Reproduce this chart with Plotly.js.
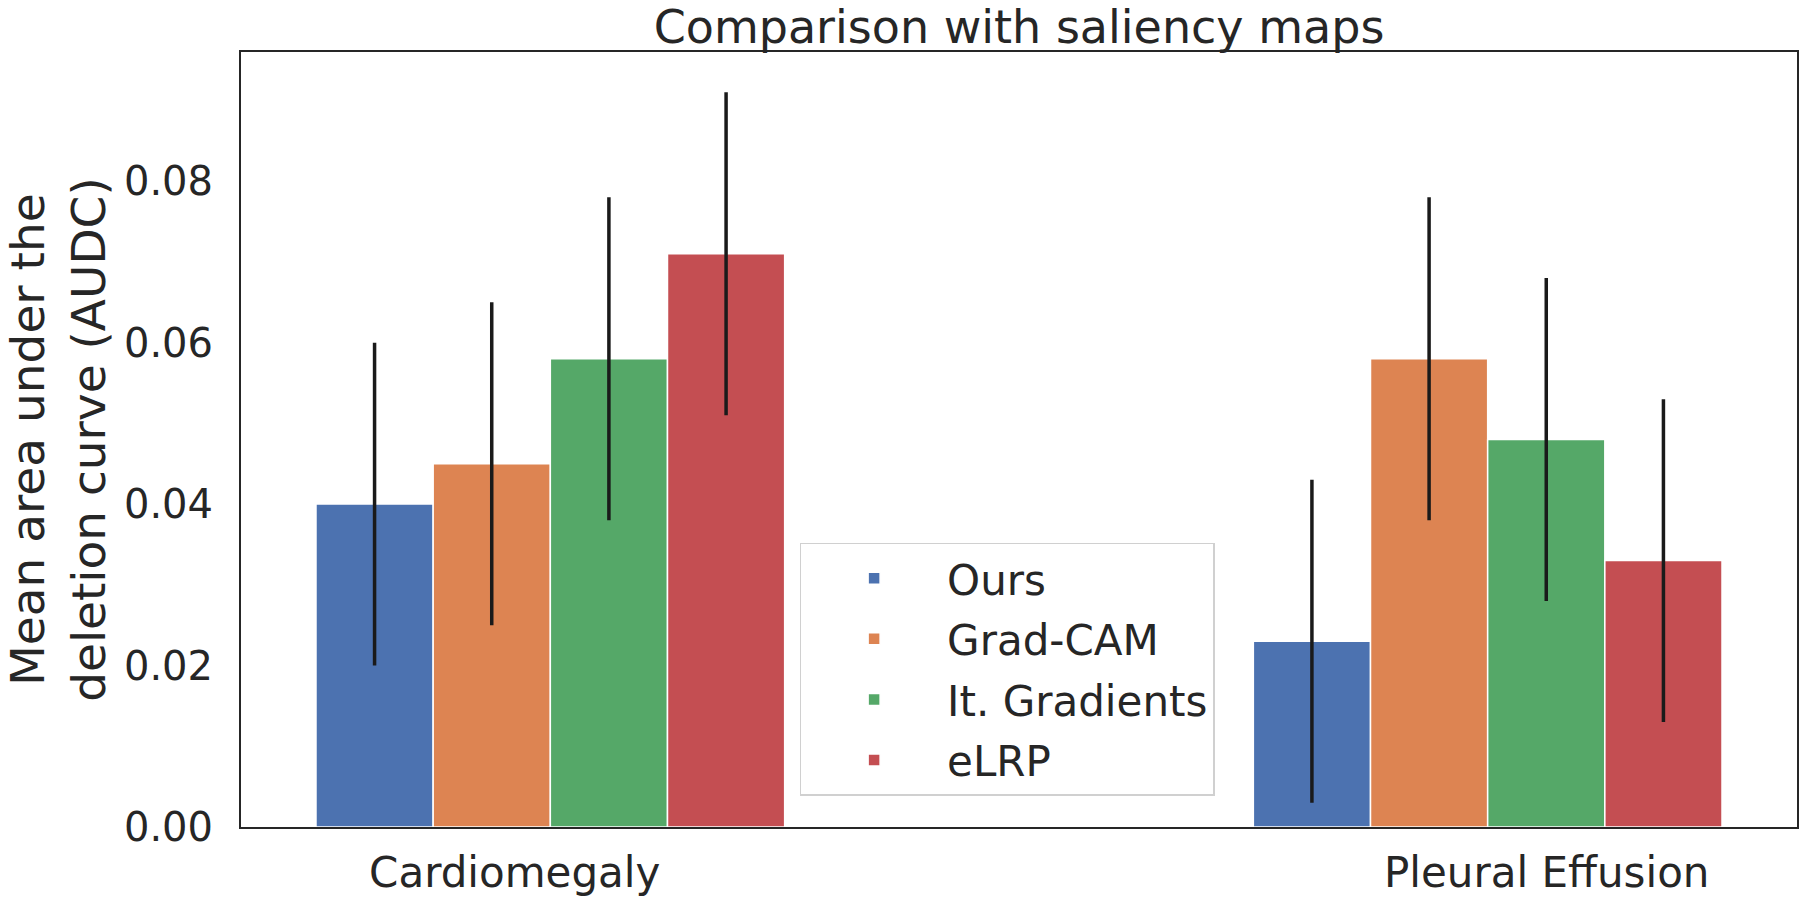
<!DOCTYPE html>
<html>
<head>
<meta charset="utf-8">
<script src="https://cdn.plot.ly/plotly-3.0.1.min.js"></script>
<style>html,body{margin:0;padding:0;background:#fff;}#chart{width:1800px;height:897px;}</style>
</head>
<body>
<div id="chart"></div>
<script>
// Data
const categories = ["Cardiomegaly", "Pleural Effusion"];
const methods = ["Ours", "Grad-CAM", "It. Gradients", "eLRP"];
const ours = [0.040, 0.023];
const gradcam = [0.045, 0.058];
const itgrad = [0.058, 0.048];
const elrp = [0.071, 0.033];
const oursErr = [0.020, 0.020];
const gradcamErr = [0.020, 0.020];
const itgradErr = [0.020, 0.020];
const elrpErr = [0.020, 0.020];
const yTicks = [0.00, 0.02, 0.04, 0.06, 0.08];
const yTickText = ["0.00", "0.02", "0.04", "0.06", "0.08"];

const colors = ["#4c72b0", "#dd8452", "#55a868", "#c44e52"];
const values = [ours, gradcam, itgrad, elrp];
const errs = [oursErr, gradcamErr, itgradErr, elrpErr];
const xPos = categories.map((c, i) => i);

const font = "DejaVu Sans, sans-serif";
const txt = "#262626";

const traces = methods.map((m, k) => ({
  type: "bar",
  name: m,
  legendgroup: "g" + k,
  x: xPos,
  y: values[k],
  marker: {color: colors[k], line: {color: "#ffffff", width: 1.5}},
  error_y: {type: "data", array: errs[k], visible: true, color: "#1a1a1a", thickness: 3.5, width: 0},
  hoverinfo: "y+name"
}));

const layout = {
  width: 1800, height: 897,
  paper_bgcolor: "#ffffff", plot_bgcolor: "#ffffff",
  margin: {l: 241, r: 3, t: 52, b: 70},
  barmode: "group", bargap: 0.5, bargroupgap: 0,
  font: {family: font, size: 40, color: txt},
  title: {text: "Comparison with saliency maps", font: {family: font, size: 46, color: txt},
          xref: "paper", x: 0.5, xanchor: "center", yref: "container", y: 0.970, yanchor: "middle"},
  xaxis: {
    range: [-0.33, 1.33],
    tickmode: "array",
    tickvals: [xPos[0] - 0.038, xPos[1] + 0.063],
    ticktext: categories,
    showgrid: false, zeroline: false, ticks: "",
    showline: true, linecolor: "#262626", linewidth: 2, mirror: true,
    tickfont: {family: font, size: 42, color: txt},
    ticklabelstandoff: 8
  },
  yaxis: {
    range: [0, 0.096],
    tickmode: "array", tickvals: yTicks, ticktext: yTickText,
    showgrid: false, zeroline: false, ticks: "",
    showline: true, linecolor: "#262626", linewidth: 2, mirror: true,
    tickfont: {family: font, size: 40, color: txt},
    ticklabelstandoff: 18,
    title: {text: "Mean area under the<br>deletion curve (AUDC)", font: {family: font, size: 47, color: txt}, standoff: 8}
  },
  legend: {
    x: 0.359, y: 0.3665, xanchor: "left", yanchor: "top",
    bgcolor: "rgba(255,255,255,0.8)", bordercolor: "#d0d0d0", borderwidth: 1.5,
    font: {family: font, size: 42, color: txt},
    itemwidth: 136, tracegroupgap: 3
  },
  showlegend: true
};

Plotly.newPlot("chart", traces, layout, {displayModeBar: false, staticPlot: true});
</script>
</body>
</html>
